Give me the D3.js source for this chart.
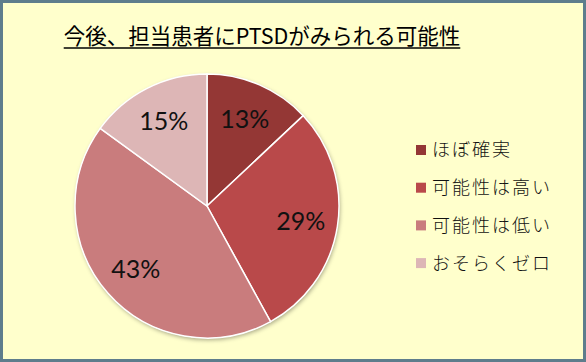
<html>
<head>
<meta charset="utf-8">
<script src="https://d3js.org/d3.v7.min.js"></script>
<style>
  body { margin: 0; }
</style>
</head>
<body>
<svg width="586" height="362"></svg>
<script>
var categories = ["ほぼ確実", "可能性は高い", "可能性は低い", "おそらくゼロ"];
var values = [13, 29, 43, 15];
var colors = ["#943735", "#b9494a", "#c97c7d", "#ddb6b6"];
var title = "今後、担当患者にPTSDがみられる可能性";

var svg = d3.select("svg");

// background + frame
svg.append("rect")
  .attr("x", 1.5).attr("y", 1.5)
  .attr("width", 583).attr("height", 359)
  .attr("fill", "#ffffcc")
  .attr("stroke", "#5e7d8c")
  .attr("stroke-width", 3);

var defs = svg.append("defs");
var f = defs.append("filter").attr("id", "sh")
  .attr("x", "-20%").attr("y", "-20%").attr("width", "140%").attr("height", "140%");
f.append("feDropShadow").attr("dx", 1).attr("dy", 2).attr("stdDeviation", 2)
  .attr("flood-color", "#000").attr("flood-opacity", 0.35);

// title
var t = svg.append("text")
  .attr("x", 262).attr("y", 44)
  .attr("text-anchor", "middle")
  .attr("font-family", "'Noto Sans CJK JP'")
  .attr("font-size", 21.5)
  .attr("font-weight", 400)
  .attr("fill", "#000")
  .text(title);
var bb = t.node().getBBox();
svg.append("line")
  .attr("x1", bb.x).attr("x2", bb.x + bb.width)
  .attr("y1", 48).attr("y2", 48)
  .attr("stroke", "#000").attr("stroke-width", 1.5);

// pie
var r = 132;
var g = svg.append("g").attr("transform", "translate(207,206)");

var pie = d3.pie().sort(null).value(function (d) { return d; });
var arc = d3.arc().innerRadius(0).outerRadius(r);
var labelArc = d3.arc().innerRadius(95).outerRadius(95);
var arcs = pie(values);

g.append("circle").attr("r", r).attr("fill", "#fff").attr("filter", "url(#sh)");

g.selectAll("path.slice")
  .data(arcs)
  .enter()
  .append("path")
  .attr("class", "slice")
  .attr("d", arc)
  .attr("fill", function (d, i) { return colors[i]; })
  .attr("stroke", "#fff")
  .attr("stroke-width", 1.5);

g.selectAll("text.lbl")
  .data(arcs)
  .enter()
  .append("text")
  .attr("class", "lbl")
  .attr("transform", function (d) { return "translate(" + labelArc.centroid(d) + ")"; })
  .attr("text-anchor", "middle")
  .attr("dy", "0.35em")
  .attr("font-family", "Lato, 'Open Sans', sans-serif")
  .attr("font-size", 25)
  .attr("fill", "#111")
  .text(function (d) { return d.data + "%"; });

// legend
var lg = svg.append("g");
var item = lg.selectAll("g")
  .data(categories)
  .enter()
  .append("g")
  .attr("transform", function (d, i) { return "translate(416," + (150 + i * 37.7) + ")"; });
item.append("rect")
  .attr("x", 0).attr("y", -5)
  .attr("width", 10).attr("height", 10)
  .attr("fill", function (d, i) { return colors[i]; });
item.append("text")
  .attr("x", 16).attr("dy", "0.36em")
  .attr("font-family", "'Noto Sans CJK JP'")
  .attr("font-size", 18)
  .attr("font-weight", 300)
  .attr("letter-spacing", 2)
  .attr("fill", "#111")
  .text(function (d) { return d; });
</script>
</body>
</html>
